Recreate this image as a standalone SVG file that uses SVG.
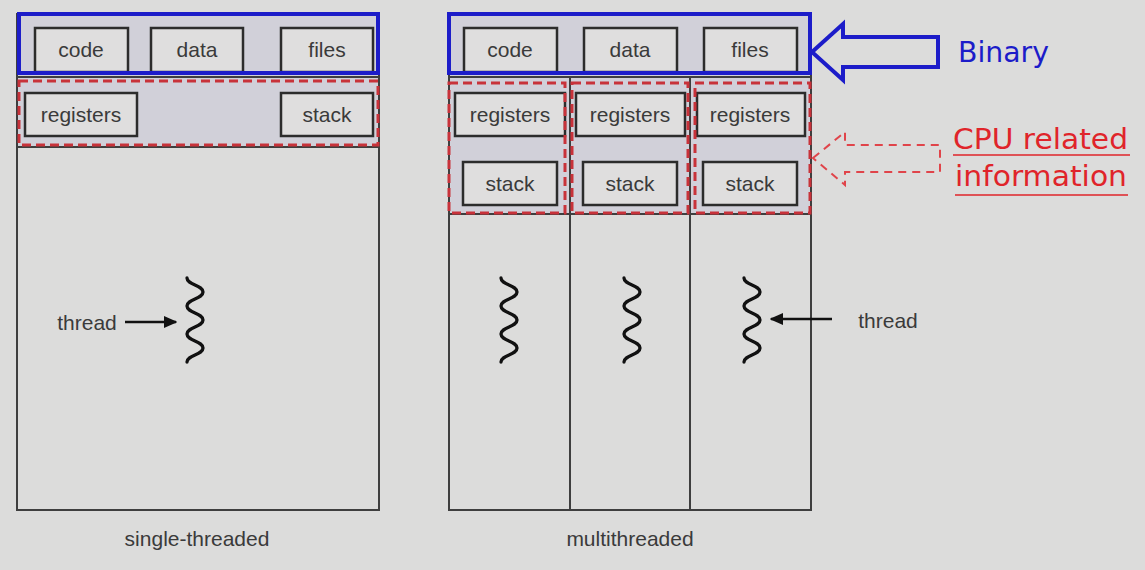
<svg xmlns="http://www.w3.org/2000/svg" width="1145" height="570" viewBox="0 0 1145 570">
<style>
.bg{fill:#dcdcdb}
.hdr{fill:#d1d0d9}
.frame{fill:none;stroke:#3e3e3e;stroke-width:2}
.box{fill:#dfdede;stroke:#2c2c2c;stroke-width:2.5}
.lbl{font-family:"Liberation Sans",Arial,sans-serif;font-size:21px;fill:#3a3a3a;text-anchor:middle}
.blue{fill:none;stroke:#1c1cc9;stroke-width:4}
.reddash{fill:none;stroke:#c8323a;stroke-width:3;stroke-dasharray:9 5}
.wave{fill:none;stroke:#111;stroke-width:3.3;stroke-linecap:round}
.arr{stroke:#111;stroke-width:2.5}
.hand{font-family:"DejaVu Sans","Noto Sans",sans-serif;font-size:29px}
</style>
<defs>
<marker id="ah" viewBox="0 0 10 10" refX="9" refY="5" markerWidth="5.5" markerHeight="5.5" orient="auto" markerUnits="strokeWidth">
<path d="M0,0.5 L10,5 L0,9.5 z" fill="#111"/>
</marker>
<path id="wv" d="M0,0 C0,7 16,7 16,14 S0,21 0,28 S16,35 16,42 S0,49 0,56 S16,63 16,70 S0,77 0,84"/>
</defs>
<rect class="bg" x="0" y="0" width="1145" height="570"/>

<g id="single-threaded">
<rect class="hdr" x="17" y="14" width="362" height="133"/>
<rect class="frame" x="17" y="14" width="362" height="496"/>
<line class="frame" x1="17" y1="77" x2="379" y2="77"/>
<line class="frame" x1="17" y1="147" x2="379" y2="147"/>
<text class="lbl" x="197" y="546">single-threaded</text>
</g>

<g id="st-code"><rect class="box" x="35" y="28" width="93" height="44"/><text class="lbl" x="81" y="57">code</text></g>
<g id="st-data"><rect class="box" x="151" y="28" width="92" height="44"/><text class="lbl" x="197" y="57">data</text></g>
<g id="st-files"><rect class="box" x="281" y="28" width="92" height="44"/><text class="lbl" x="327" y="57">files</text></g>
<g id="st-registers"><rect class="box" x="25" y="93" width="112" height="43"/><text class="lbl" x="81" y="122">registers</text></g>
<g id="st-stack"><rect class="box" x="281" y="93" width="92" height="43"/><text class="lbl" x="327" y="122">stack</text></g>
<g id="st-thread"><use href="#wv" class="wave" x="187" y="278"/></g>
<g id="st-thread-label"><text class="lbl" x="87" y="330">thread</text></g>
<g id="st-binary"><rect class="blue" x="19" y="14" width="359" height="59"/></g>
<g id="st-cpu"><rect class="reddash" x="19" y="81" width="359" height="64"/></g>

<g id="multithreaded">
<rect class="hdr" x="449" y="14" width="362" height="200"/>
<rect class="frame" x="449" y="14" width="362" height="496"/>
<line class="frame" x1="449" y1="77" x2="811" y2="77"/>
<line class="frame" x1="449" y1="214" x2="811" y2="214"/>
<line class="frame" x1="570" y1="77" x2="570" y2="510"/>
<line class="frame" x1="690" y1="77" x2="690" y2="510"/>
<text class="lbl" x="630" y="546">multithreaded</text>
</g>

<g id="mt-code"><rect class="box" x="464" y="28" width="93" height="44"/><text class="lbl" x="510" y="57">code</text></g>
<g id="mt-data"><rect class="box" x="584" y="28" width="93" height="44"/><text class="lbl" x="630" y="57">data</text></g>
<g id="mt-files"><rect class="box" x="704" y="28" width="93" height="44"/><text class="lbl" x="750" y="57">files</text></g>
<g id="mt-registers-1"><rect class="box" x="455" y="93" width="110" height="43"/><text class="lbl" x="510" y="122">registers</text></g>
<g id="mt-registers-2"><rect class="box" x="576" y="93" width="109" height="43"/><text class="lbl" x="630" y="122">registers</text></g>
<g id="mt-registers-3"><rect class="box" x="697" y="93" width="108" height="43"/><text class="lbl" x="750" y="122">registers</text></g>
<g id="mt-stack-1"><rect class="box" x="463" y="162" width="94" height="43"/><text class="lbl" x="510" y="191">stack</text></g>
<g id="mt-stack-2"><rect class="box" x="583" y="162" width="94" height="43"/><text class="lbl" x="630" y="191">stack</text></g>
<g id="mt-stack-3"><rect class="box" x="703" y="162" width="94" height="43"/><text class="lbl" x="750" y="191">stack</text></g>
<g id="mt-thread-1"><use href="#wv" class="wave" x="501" y="278"/></g>
<g id="mt-thread-2"><use href="#wv" class="wave" x="624" y="278"/></g>
<g id="mt-thread-3"><use href="#wv" class="wave" x="744" y="278"/></g>
<g id="mt-thread-label"><text class="lbl" x="888" y="328">thread</text></g>
<g id="mt-binary"><rect class="blue" x="449" y="14" width="361" height="59"/></g>
<g id="mt-cpu">
<rect class="reddash" x="449" y="83" width="116" height="130"/>
<rect class="reddash" x="572" y="83" width="116" height="130"/>
<rect class="reddash" x="695" y="83" width="115" height="130"/>
</g>

<g id="binary-label"><text class="hand" x="958" y="62" fill="#1c1cc9" textLength="91" lengthAdjust="spacingAndGlyphs">Binary</text></g>
<g id="cpu-label">
<text class="hand" x="953" y="149" fill="#e0242a" textLength="175" lengthAdjust="spacingAndGlyphs">CPU related</text>
<text class="hand" x="955" y="186" fill="#e0242a" textLength="172" lengthAdjust="spacingAndGlyphs">information</text>
<line x1="953" y1="155" x2="1130" y2="155" stroke="#e0242a" stroke-width="1.5"/>
<line x1="955" y1="195" x2="1128" y2="195" stroke="#e0242a" stroke-width="1.5"/>
</g>

<g id="connectors">
<line class="arr" x1="125" y1="322" x2="176" y2="322" marker-end="url(#ah)"/>
<line class="arr" x1="832" y1="319" x2="771" y2="319" marker-end="url(#ah)"/>
<polygon class="blue" points="812,52 843,24 843,37 938,37 938,67 843,67 843,80"/>
<polygon points="813,158 845,132 845,145 940,145 940,172 845,172 845,185" fill="none" stroke="#e0444a" stroke-width="2" stroke-dasharray="8 6"/>
</g>
</svg>
